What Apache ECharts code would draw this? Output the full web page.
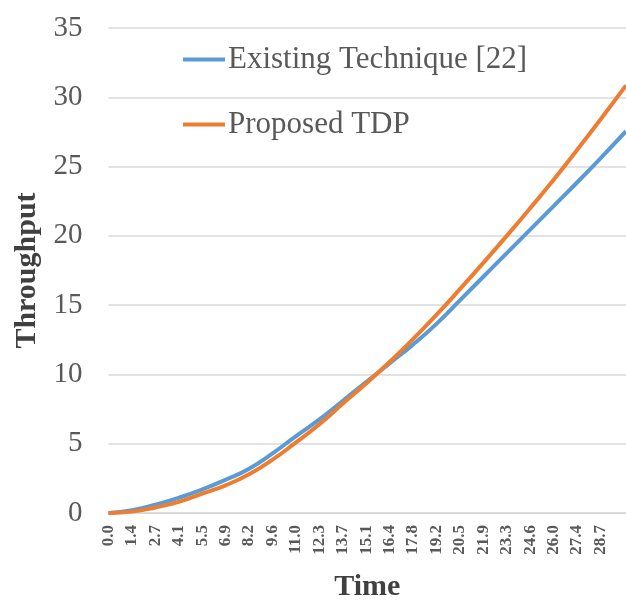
<!DOCTYPE html>
<html>
<head>
<meta charset="utf-8">
<script src="https://cdn.jsdelivr.net/npm/echarts@6/dist/echarts.min.js"></script>
<style>
  html, body { margin: 0; padding: 0; background: #fff; }
  #chart { width: 626px; height: 602px; }
</style>
</head>
<body>
<div id="chart"></div>
<script>
var chart = echarts.init(document.getElementById('chart'));

// time tick labels shown under the axis
var timeTicks = ['0.0', '1.4', '2.7', '4.1', '5.5', '6.9', '8.2', '9.6', '11.0', '12.3', '13.7',
                 '15.1', '16.4', '17.8', '19.2', '20.5', '21.9', '23.3', '24.6', '26.0', '27.4', '28.7'];
var tickStep = 1.3695;

// sample times (read at the tick marks, plus the right edge)
var times = [0, 1.37, 2.74, 4.11, 5.48, 6.85, 8.22, 9.59, 10.96, 12.33, 13.70, 15.06,
             16.43, 17.80, 19.17, 20.54, 21.91, 23.28, 24.65, 26.02, 27.39, 28.76, 30.25];
var existing = [0, 0.2, 0.6, 1.1, 1.7, 2.4, 3.2, 4.3, 5.55, 6.75, 8.1, 9.45,
                10.8, 12.15, 13.65, 15.35, 17.05, 18.75, 20.45, 22.15, 23.85, 25.6, 27.55];
var proposed = [0, 0.1, 0.4, 0.8, 1.4, 2.0, 2.8, 3.85, 5.1, 6.4, 7.9, 9.35,
                10.9, 12.55, 14.3, 16.15, 18.05, 20.0, 22.0, 24.05, 26.2, 28.4, 30.85];

function pairs(vals) {
    return vals.map(function (v, i) { return [times[i], v]; });
}

var serif = "'Liberation Serif', 'Times New Roman', serif";

var option = {
    backgroundColor: '#fff',
    animation: false,
    grid: { left: 108.5, right: 0, top: 28, bottom: 89, containLabel: false, outerBoundsMode: 'none' },
    legend: {
        orient: 'vertical',
        left: 178,
        top: 39,
        itemGap: 34,
        itemWidth: 42,
        itemHeight: 4,
        icon: 'rect',
        textStyle: { fontFamily: serif, fontSize: 31, color: '#595959', padding: [0, 0, 0, -2] },
        data: ['Existing Technique [22]', 'Proposed TDP']
    },
    xAxis: {
        type: 'value',
        min: 0,
        max: 30.25,
        interval: tickStep,
        name: 'Time',
        nameLocation: 'middle',
        nameGap: 59,
        nameTextStyle: { fontFamily: serif, fontSize: 30, fontWeight: 'bold', color: '#404040' },
        axisLine: { show: true, lineStyle: { color: '#d9d9d9', width: 1.5 } },
        axisTick: { show: false },
        splitLine: { show: false },
        axisLabel: {
            rotate: 90,
            margin: 12,
            showMaxLabel: false,
            fontFamily: serif,
            fontSize: 17,
            fontWeight: 'bold',
            color: '#595959',
            formatter: function (v) {
                var i = Math.round(v / tickStep);
                return timeTicks[i] || '';
            }
        }
    },
    yAxis: {
        type: 'value',
        min: 0,
        max: 35,
        interval: 5,
        name: 'Throughput',
        nameLocation: 'middle',
        nameGap: 63,
        nameTextStyle: { fontFamily: serif, fontSize: 30, fontWeight: 'bold', color: '#404040' },
        axisLine: { show: false },
        axisTick: { show: false },
        splitLine: { lineStyle: { color: '#d9d9d9', width: 1.5 } },
        axisLabel: { margin: 26, fontFamily: serif, fontSize: 29, color: '#595959' }
    },
    series: [
        {
            name: 'Existing Technique [22]',
            type: 'line',
            smooth: true,
            symbol: 'none',
            color: '#5B9BD5',
            lineStyle: { width: 4 },
            data: pairs(existing)
        },
        {
            name: 'Proposed TDP',
            type: 'line',
            smooth: true,
            symbol: 'none',
            color: '#ED7D31',
            lineStyle: { width: 4 },
            data: pairs(proposed)
        }
    ]
};

chart.setOption(option);
</script>
</body>
</html>
